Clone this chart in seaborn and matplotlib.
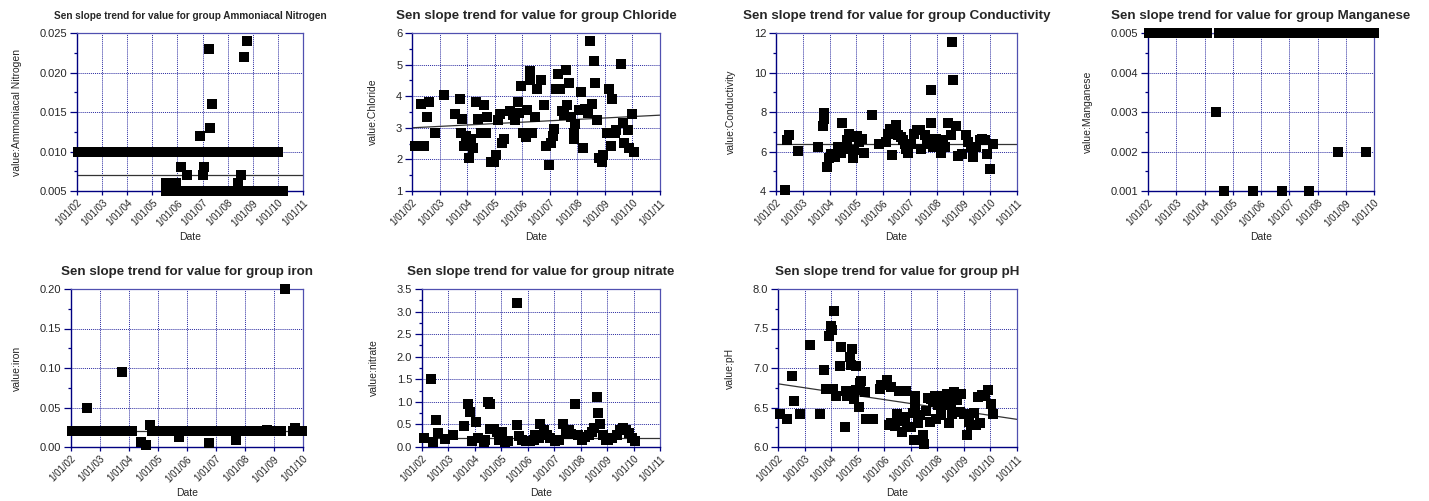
import numpy as np
import pandas as pd
import matplotlib
matplotlib.use("Agg")
import matplotlib.pyplot as plt
import seaborn as sns
from matplotlib.ticker import MultipleLocator

# ---------------- data (x = decimal year) ----------------
amm_x = [2002.02, 2002.2, 2002.4, 2002.6, 2002.8, 2003.0, 2003.15, 2003.3,
         2003.45, 2003.65, 2003.85, 2004.05, 2004.25, 2004.45, 2004.65, 2004.85,
         2005.05, 2005.25, 2005.45, 2005.65, 2005.85, 2006.05, 2006.25, 2006.45,
         2006.65, 2006.85, 2007.05, 2007.25,
         2007.5, 2007.7, 2007.9, 2008.1, 2008.3, 2008.5, 2008.7, 2008.9, 2009.1,
         2009.3, 2009.5, 2009.7, 2009.9, 2010.02,
         2005.55, 2005.7, 2005.85, 2006.0, 2006.2, 2006.4, 2006.6, 2006.8, 2007.0, 2007.1,
         2007.4, 2007.6, 2007.8, 2008.0, 2008.2, 2008.4, 2008.55,
         2008.72, 2008.9, 2009.1, 2009.3, 2009.5, 2009.7, 2009.9, 2010.1, 2010.22,
         2005.55, 2005.75, 2005.95, 2008.4,
         2006.13, 2006.38, 2006.89, 2007.07, 2007.02, 2007.25, 2007.31, 2007.36,
         2008.64, 2008.77, 2008.53]
amm_y = [0.010] * 42 + [0.005] * 26 + [0.006] * 4 + \
        [0.008, 0.007, 0.012, 0.008, 0.007, 0.023, 0.013, 0.016, 0.022, 0.024, 0.007]

chl_x = [2002.1, 2002.42, 2002.34, 2002.6, 2002.54, 2002.82, 2003.15, 2003.55, 2003.76,
         2003.8, 2003.78, 2003.9, 2003.97, 2004.06, 2004.13, 2004.23, 2004.34, 2004.4,
         2004.5, 2004.6, 2004.67, 2004.72, 2004.88, 2004.98, 2005.06, 2005.12, 2005.18,
         2005.28, 2005.33, 2005.55, 2005.67, 2005.73, 2005.85, 2005.88, 2005.97, 2006.03,
         2006.13, 2006.19, 2006.27, 2006.27, 2006.36, 2006.45, 2006.55, 2006.69, 2006.79,
         2006.85, 2006.96, 2007.06, 2007.12, 2007.16, 2007.22, 2007.3, 2007.36, 2007.45,
         2007.52, 2007.6, 2007.64, 2007.7, 2007.78, 2007.9, 2007.88, 2007.87, 2008.05,
         2008.15, 2008.21, 2008.27, 2008.37, 2008.45, 2008.54, 2008.61, 2008.63, 2008.73,
         2008.78, 2008.88, 2008.94, 2009.06, 2009.14, 2009.22, 2009.27, 2009.36, 2009.42,
         2009.57, 2009.67, 2009.71, 2009.83, 2009.89, 2009.97, 2010.06]
chl_y = [2.43, 2.43, 3.74, 3.82, 3.33, 2.84, 4.03, 3.43, 3.92,
         3.27, 2.84, 2.42, 2.74, 2.05, 2.63, 2.35, 3.82, 3.27,
         2.84, 3.72, 2.84, 3.33, 1.92, 1.92, 2.13, 3.25, 3.43,
         2.53, 2.66, 3.53, 3.40, 3.25, 3.82, 3.48, 4.33, 2.82,
         2.72, 3.56, 4.52, 4.80, 2.84, 3.33, 4.22, 4.52, 3.72,
         2.42, 1.82, 2.53, 2.74, 2.95, 4.22, 4.70, 4.22, 3.53,
         3.40, 4.83, 3.72, 4.41, 3.33, 3.12, 2.82, 2.63, 3.56,
         4.12, 2.35, 3.61, 3.46, 5.74, 3.74, 5.12, 4.41, 3.25,
         2.03, 1.92, 2.13, 2.84, 4.22, 2.42, 3.92, 2.84, 2.93,
         5.01, 3.14, 2.53, 2.93, 2.35, 3.43, 2.24]

con_x = [2002.32, 2002.41, 2002.5, 2002.81, 2003.56, 2003.74, 2003.79, 2003.79, 2003.9,
         2003.99, 2004.06, 2004.21, 2004.31, 2004.42, 2004.48, 2004.55, 2004.64, 2004.73,
         2004.8, 2004.86, 2004.93, 2005.01, 2005.1, 2005.2, 2005.29, 2005.57, 2005.85,
         2006.11, 2006.19, 2006.26, 2006.35, 2006.48, 2006.54, 2006.66, 2006.75, 2006.81,
         2006.87, 2006.94, 2007.06, 2007.15, 2007.25, 2007.37, 2007.43, 2007.56, 2007.64,
         2007.72, 2007.77, 2007.77, 2007.87, 2007.96, 2008.05, 2008.15, 2008.24, 2008.3,
         2008.43, 2008.52, 2008.59, 2008.61, 2008.74, 2008.8, 2008.93, 2009.11, 2009.17,
         2009.27, 2009.36, 2009.48, 2009.6, 2009.68, 2009.79, 2009.89, 2010.0, 2010.12]
con_y = [4.03, 6.60, 6.82, 6.03, 6.23, 7.29, 7.66, 7.95, 5.22,
         5.69, 5.86, 5.72, 6.23, 5.92, 7.44, 6.14, 6.57, 6.90,
         6.73, 5.69, 6.08, 6.76, 6.48, 6.65, 5.92, 7.83, 6.36,
         6.48, 6.90, 7.16, 5.84, 7.33, 6.82, 6.73, 6.57, 6.36,
         6.14, 5.92, 6.40, 6.90, 7.10, 7.07, 6.14, 6.82, 6.65,
         6.40, 9.13, 7.44, 6.23, 6.65, 6.40, 5.92, 6.57, 6.23,
         7.44, 6.82, 11.54, 9.60, 7.29, 5.76, 5.86, 6.82, 6.48,
         6.23, 5.72, 6.23, 6.57, 6.65, 6.60, 5.86, 5.13, 6.36]

man_x = [2002.05, 2002.25, 2002.45, 2002.65, 2002.85, 2003.1, 2003.3, 2003.5, 2003.7,
         2003.9, 2004.1, 2004.5, 2004.7, 2004.9, 2005.1, 2005.3, 2005.5, 2005.7, 2005.9,
         2006.1, 2006.3, 2006.5, 2006.6, 2006.85, 2007.05, 2007.25, 2007.45, 2007.65,
         2007.85, 2008.05, 2008.25, 2008.45, 2008.65, 2008.85, 2009.05, 2009.25, 2009.45,
         2009.65, 2009.85, 2010.0,
         2004.4, 2004.7, 2005.73, 2006.73, 2007.7, 2008.74, 2009.7]
man_y = [0.005] * 40 + [0.003, 0.001, 0.001, 0.001, 0.001, 0.002, 0.002]

iron_x = [2002.05, 2002.25, 2002.45, 2002.65, 2002.85, 2003.1, 2003.25, 2003.5, 2003.7,
          2003.9, 2004.1, 2004.8, 2005.0, 2005.2, 2005.4, 2005.6, 2005.8, 2006.0, 2006.2,
          2006.4, 2006.6, 2006.85, 2007.05, 2007.25, 2007.45, 2007.7, 2007.9, 2008.1,
          2008.3, 2008.5, 2008.7, 2008.9, 2009.1, 2009.25, 2009.65, 2009.85, 2009.98,
          2002.55, 2003.76, 2004.41, 2004.6, 2004.74, 2005.74, 2006.75, 2007.7, 2008.76,
          2009.39, 2009.74]
iron_y = [0.02] * 37 + [0.05, 0.095, 0.006, 0.003, 0.028, 0.013, 0.005, 0.009, 0.022,
                        0.20, 0.024]

nit_x = [2002.06, 2002.35, 2002.4, 2002.53, 2002.6, 2002.86, 2003.17, 2003.57, 2003.74,
         2003.8, 2003.89, 2004.04, 2004.12, 2004.33, 2004.39, 2004.49, 2004.58, 2004.58,
         2004.71, 2004.83, 2004.92, 2005.02, 2005.12, 2005.27, 2005.59, 2005.61, 2005.68,
         2005.78, 2005.93, 2006.07, 2006.22, 2006.28, 2006.41, 2006.47, 2006.6, 2006.72,
         2006.85, 2007.04, 2007.19, 2007.35, 2007.44, 2007.54, 2007.64, 2007.79, 2007.89,
         2008.05, 2008.17, 2008.3, 2008.42, 2008.52, 2008.61, 2008.65, 2008.74, 2008.83,
         2008.95, 2009.05, 2009.18, 2009.37, 2009.49, 2009.59, 2009.71, 2009.83, 2009.96,
         2010.06]
nit_y = [0.19, 1.50, 0.11, 0.59, 0.32, 0.17, 0.27, 0.46, 0.95,
         0.78, 0.13, 0.56, 0.21, 0.11, 0.15, 1.00, 0.96, 0.39,
         0.39, 0.33, 0.15, 0.33, 0.11, 0.13, 3.20, 0.48, 0.24,
         0.15, 0.13, 0.13, 0.16, 0.26, 0.21, 0.50, 0.37, 0.26,
         0.19, 0.13, 0.15, 0.50, 0.28, 0.37, 0.28, 0.95, 0.26,
         0.16, 0.22, 0.27, 0.33, 0.41, 1.11, 0.76, 0.50, 0.26,
         0.16, 0.16, 0.21, 0.26, 0.37, 0.41, 0.37, 0.31, 0.21,
         0.13]

ph_x = [2002.09, 2002.35, 2002.54, 2002.6, 2002.84, 2003.19, 2003.57, 2003.73, 2003.8,
        2003.91, 2003.98, 2004.03, 2004.1, 2004.07, 2004.2, 2004.35, 2004.38, 2004.51,
        2004.57, 2004.6, 2004.7, 2004.76, 2004.8, 2004.86, 2004.95, 2004.95, 2005.05,
        2005.07, 2005.14, 2005.29, 2005.33, 2005.58, 2005.85, 2005.89, 2006.12, 2006.17,
        2006.24, 2006.27, 2006.39, 2006.49, 2006.55, 2006.62, 2006.68, 2006.77, 2006.83,
        2006.87, 2006.99, 2007.08, 2007.12, 2007.17, 2007.17, 2007.27, 2007.33, 2007.46,
        2007.5, 2007.59, 2007.65, 2007.71, 2007.77, 2007.84, 2007.9, 2007.96, 2008.02,
        2008.09, 2008.15, 2008.21, 2008.27, 2008.37, 2008.44, 2008.5, 2008.55, 2008.61,
        2008.68, 2008.75, 2008.84, 2008.9, 2009.0, 2009.09, 2009.13, 2009.19, 2009.28,
        2009.38, 2009.44, 2009.53, 2009.62, 2009.69, 2009.78, 2009.91, 2010.03, 2010.1]
ph_y = [6.42, 6.36, 6.90, 6.58, 6.42, 7.29, 6.42, 6.97, 6.73,
        7.40, 7.53, 7.48, 7.72, 6.73, 6.64, 7.02, 7.27, 6.25,
        6.71, 6.64, 7.14, 7.04, 7.24, 6.61, 7.02, 6.72, 6.51,
        6.81, 6.84, 6.70, 6.35, 6.35, 6.73, 6.78, 6.85, 6.28,
        6.76, 6.31, 6.26, 6.42, 6.71, 6.33, 6.19, 6.38, 6.71,
        6.25, 6.25, 6.43, 6.09, 6.53, 6.64, 6.30, 6.40, 6.15,
        6.04, 6.46, 6.62, 6.32, 6.61, 6.57, 6.64, 6.36, 6.53,
        6.64, 6.40, 6.57, 6.53, 6.67, 6.30, 6.54, 6.42, 6.70,
        6.64, 6.59, 6.44, 6.67, 6.42, 6.42, 6.15, 6.32, 6.28,
        6.43, 6.28, 6.63, 6.31, 6.66, 6.64, 6.72, 6.54, 6.42]

groups = ["Ammoniacal Nitrogen", "Chloride", "Conductivity", "Manganese",
          "iron", "nitrate", "pH"]
xs = [amm_x, chl_x, con_x, man_x, iron_x, nit_x, ph_x]
ys = [amm_y, chl_y, con_y, man_y, iron_y, nit_y, ph_y]
# Sen slope trend line values at the left and right ends of each x axis
trend_start = [0.007, 3.0, 6.4, 0.005, 0.02, 0.21, 6.80]
trend_end = [0.007, 3.4, 6.4, 0.005, 0.02, 0.21, 6.35]
x_end_year = [2011, 2011, 2011, 2010, 2010, 2011, 2011]
y_min = [0.005, 1, 4, 0.001, 0.0, 0.0, 6.0]
y_max = [0.025, 6, 12, 0.005, 0.20, 3.5, 8.0]
y_step = [0.005, 1, 2, 0.001, 0.05, 0.5, 0.5]
y_fmt = ["{:.3f}", "{:.0f}", "{:.0f}", "{:.3f}", "{:.2f}", "{:.1f}", "{:.1f}"]
tick_years = list(range(2002, 2012))
tick_labels = ["1/01/02", "1/01/03", "1/01/04", "1/01/05", "1/01/06",
               "1/01/07", "1/01/08", "1/01/09", "1/01/10", "1/01/11"]

# ---------------- layout (pixels) ----------------
W, H = 1429, 501
boxes = [(77, 303, 33, 191), (412, 660, 33, 191), (776, 1017, 33, 191),
         (1148, 1374, 33, 191), (71, 303, 289, 447), (422, 660, 289, 447),
         (778, 1017, 289, 447)]
title_sizes = [7.2, 9.6, 9.6, 9.6, 9.6, 9.6, 9.6]

sns.set_style("white")
plt.rcParams["font.family"] = ["Liberation Sans", "DejaVu Sans"]

fig = plt.figure(figsize=(W / 100, H / 100), dpi=100)
navy = "#000080"
grid_c = "#2a2aa0"

for i, g in enumerate(groups):
    l, r, t, b = boxes[i]
    ax = fig.add_axes([l / W, 1 - b / H, (r - l) / W, (b - t) / H])
    df = pd.DataFrame({"Date": xs[i], "value": ys[i]})
    sns.scatterplot(data=df, x="Date", y="value", ax=ax, marker="s", color="black",
                    s=48, linewidth=0, clip_on=False, zorder=3)
    tdf = pd.DataFrame({"Date": [2002, x_end_year[i]],
                        "value": [trend_start[i], trend_end[i]]})
    sns.lineplot(data=tdf, x="Date", y="value", ax=ax, color="#333333", lw=0.9,
                 zorder=2)
    ax.set_xlim(2002, x_end_year[i])
    ax.set_ylim(y_min[i], y_max[i])
    xt = [y for y in tick_years if y <= x_end_year[i]]
    ax.set_xticks(xt)
    ax.set_xticklabels(tick_labels[:len(xt)], rotation=45, ha="right",
                       rotation_mode="anchor", fontsize=7)
    yt = np.arange(y_min[i], y_max[i] + y_step[i] / 2, y_step[i])
    ax.set_yticks(yt)
    ax.set_yticklabels([y_fmt[i].format(v) for v in yt], fontsize=8)
    ax.yaxis.set_minor_locator(MultipleLocator(y_step[i] / 2))
    ax.tick_params(axis="y", which="major", length=5, width=0.9, color=navy,
                   left=True, pad=2)
    ax.tick_params(axis="x", which="major", length=3, width=0.9, color=navy,
                   bottom=True, pad=2)
    ax.tick_params(axis="y", which="minor", length=2.5, width=0.9, color=navy,
                   left=True)
    ax.grid(True, which="major", linestyle=(0, (1, 1)), color=grid_c, lw=0.7)
    for s in ["left", "bottom"]:
        ax.spines[s].set_color(navy)
        ax.spines[s].set_linewidth(1.0)
    for s in ["top", "right"]:
        ax.spines[s].set_color("#5050b0")
        ax.spines[s].set_linewidth(0.9)
    ax.set_xlabel("Date", fontsize=7.5, labelpad=3)
    ax.set_ylabel("value:" + g, fontsize=7.5, labelpad=13)
    ax.set_title("Sen slope trend for value for group " + g, fontsize=title_sizes[i],
                 fontweight="bold", pad=10)

fig.savefig("out.png", dpi=100)
